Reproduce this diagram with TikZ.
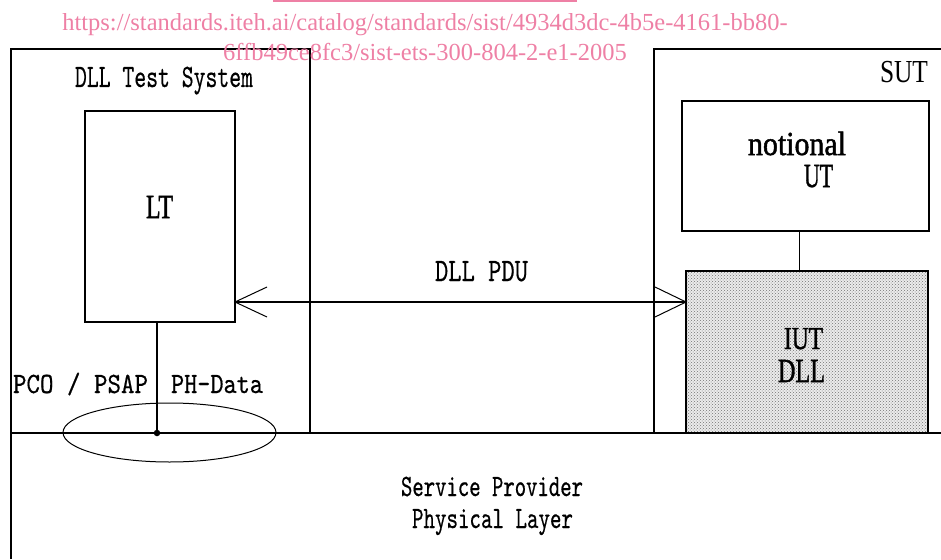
\documentclass[tikz,border=0pt]{standalone}
\usepackage{fontspec}
\setmainfont{Liberation Serif}
\setmonofont[FakeBold=0.6]{Latin Modern Mono}
\newfontfamily\labelserif[FakeBold=1.5]{Liberation Serif}
\usepackage{graphicx}
\usetikzlibrary{patterns,shapes.geometric}

\definecolor{wmpink}{RGB}{238,128,165}

% scale a label so that its cap height and width hit given sizes (pt)
\newcommand{\fitlabel}[3]{\resizebox{#1pt}{#2pt}{\raisebox{0pt}[\fontcharht\font`H]{#3}}}

\tikzset{
  lbl/.style={inner sep=0pt, outer sep=0pt, anchor=base west},
  mono/.style={lbl, font=\ttfamily},
  serif/.style={lbl, font=\rmfamily},
  serifb/.style={lbl, font=\labelserif},
  box/.style={draw, line width=1.05pt, inner sep=0pt, outer sep=0pt, anchor=north west},
  heavy/.style={line width=2.2pt},
  barb/.style={line width=1pt},
  wm/.style={inner sep=0pt, anchor=base, text=wmpink, font=\fontsize{24.5}{24.5}\selectfont},
}

\begin{document}
\begin{tikzpicture}[x=1pt, y=-1pt]
\useasboundingbox (0,0) rectangle (941,559);

% test system side
\node[box, minimum width=299pt, minimum height=384pt] (tsys) at (11,49) {};
\node[box, minimum width=150pt, minimum height=211pt] (lt) at (85,111) {};

% system under test
\node[box, minimum width=320pt, minimum height=384pt] (sut) at (654,49) {};
\node[box, minimum width=247pt, minimum height=130pt] (nut) at (682,101) {};
\node[box, minimum width=242pt, minimum height=162pt, preaction={fill=black!8},
      pattern=crosshatch dots, pattern color=black!55] (iut) at (686,271) {};
\draw[line width=1.8pt] ([xshift=-6pt]nut.south) -- ([xshift=-6pt]nut.south |- iut.north);

% physical layer and access point
\coordinate (busL) at (11,433);
\coordinate (busR) at (941,433);
\coordinate (floor) at (11,559);
\node[draw, ellipse, line width=1pt, minimum width=213pt, minimum height=59pt, inner sep=0pt] (psap) at (169.5,432.5) {};
\draw[heavy] (busL) -- (busR);
\draw[line width=1.4pt] (busL) -- (floor);
\node[circle, fill, inner sep=0pt, minimum size=6.5pt] (pco) at (157,433) {};
\draw[heavy] (pco) -- (pco |- lt.south);

% peer-to-peer PDU exchange
\path (lt.east |- 0,302) coordinate (aL);
\path (iut.west |- 0,302) coordinate (aR);
\draw[heavy] (aL) -- (aR);
\draw[barb] ([shift={(32,-15)}]aL) -- (aL) -- ([shift={(32,15)}]aL);
\draw[barb] ([shift={(-31,-15)}]aR) -- (aR) -- ([shift={(-31,15)}]aR);

% labels
\node[mono] (tsysl) at (75,87) {\fitlabel{178}{20}{DLL Test System}};
\node[serif] (sutl) at (880,83) {\fitlabel{48}{21}{SUT}};
\node[serifb] (ltl) at (146,218) {\fitlabel{27}{22}{LT}};
\node[serifb] (nutl1) at (748,155) {\fitlabel{98}{22}{notional}};
\node[serifb] (nutl2) at (804,187) {\fitlabel{29}{22}{UT}};
\node[mono] (pdul) at (435,281) {\fitlabel{93}{20}{DLL PDU}};
\node[serifb] (iutl1) at (784,349) {\fitlabel{39}{21}{IUT}};
\node[serifb] (iutl2) at (778,382) {\fitlabel{47}{22}{DLL}};
\node[mono] (pcol) at (13,393) {\fitlabel{135}{18}{PCO / PSAP}};
\node[mono] (phl) at (171,393) {\fitlabel{92}{18}{PH-Data}};
\node[mono] (spl1) at (401,496) {\fitlabel{182}{19}{Service Provider}};
\node[mono] (spl2) at (412,528) {\fitlabel{161}{19}{Physical Layer}};

% document source stamp
\draw[wmpink, line width=1.5pt] (273,1) -- (577,1);
\node[wm] (wm1) at (425,31) {https://standards.iteh.ai/catalog/standards/sist/4934d3dc-4b5e-4161-bb80-};
\node[wm] (wm2) at (425,61) {6ffb49ce8fc3/sist-ets-300-804-2-e1-2005};
\end{tikzpicture}
\end{document}
